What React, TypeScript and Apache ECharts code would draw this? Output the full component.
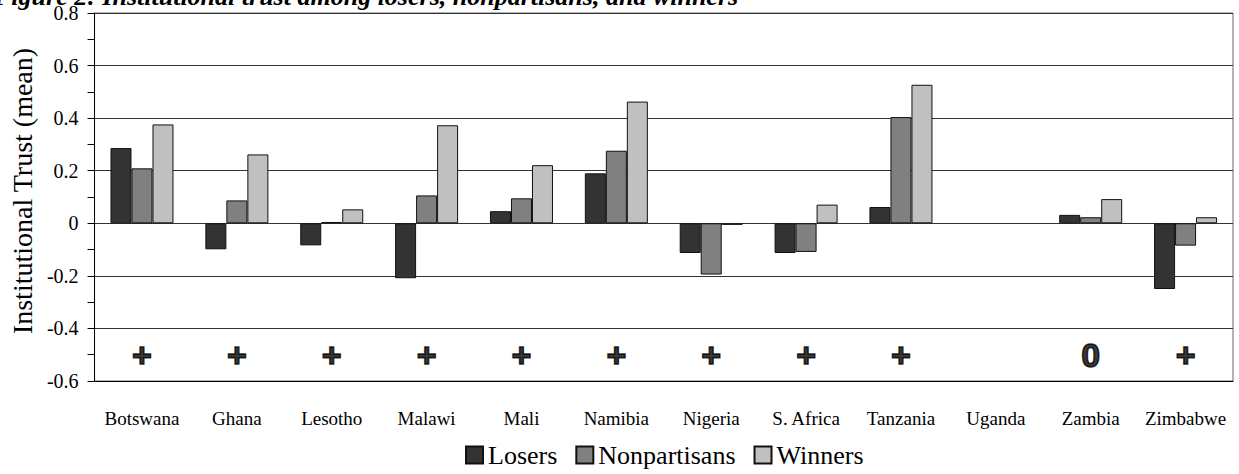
import React, { useEffect, useRef } from "react";
import * as echarts from "echarts";

const titleText = "Figure 2: Institutional trust among losers, nonpartisans, and winners";
const yAxisName = "Institutional Trust (mean)";
const categories = ["Botswana", "Ghana", "Lesotho", "Malawi", "Mali", "Namibia", "Nigeria", "S. Africa", "Tanzania", "Uganda", "Zambia", "Zimbabwe"];
const seriesNames = ["Losers", "Nonpartisans", "Winners"];
const losers = [0.286, -0.099, -0.084, -0.209, 0.046, 0.19, -0.113, -0.113, 0.062, null, 0.032, -0.25];
const nonpartisans = [0.209, 0.087, 0.005, 0.106, 0.095, 0.276, -0.195, -0.109, 0.404, null, 0.023, -0.085];
const winners = [0.376, 0.262, 0.053, 0.373, 0.221, 0.463, -0.006, 0.071, 0.527, null, 0.092, 0.023];
const signs = ["+", "+", "+", "+", "+", "+", "+", "+", "+", "", "0", "+"];
const signLevel = -0.5;
const yMin = -0.6;
const yMax = 0.8;
const yInterval = 0.2;

const colors = ["#333333", "#808080", "#c0c0c0"];
const serif = "Liberation Serif";

export default function App() {
  const ref = useRef<HTMLDivElement>(null);
  useEffect(() => {
    if (!ref.current) return;
    const chart = echarts.init(ref.current, null, { renderer: "svg" });
    const values = [losers, nonpartisans, winners];
    const barSeries = seriesNames.map((name, i) => ({
      name,
      type: "bar",
      data: values[i],
      barWidth: 21,
      barGap: "0%",
      itemStyle: { color: colors[i], borderColor: "#111", borderWidth: 1 },
      z: 3,
    }));
    chart.setOption({
      animation: false,
      textStyle: { fontFamily: serif },
      graphic: [
        {
          type: "text",
          x: -6,
          y: -4,
          style: {
            text: titleText,
            font: "italic bold 26px 'Liberation Serif'",
            fill: "#000",
            verticalAlign: "middle",
          },
        },
      ],
      grid: { left: 87, right: 6, top: 13, bottom: 93, show: true, borderColor: "#666", borderWidth: 1, backgroundColor: "transparent" },
      legend: {
        data: seriesNames,
        left: 460,
        top: 442,
        itemWidth: 17,
        itemHeight: 17,
        itemGap: 18,
        icon: "rect",
        padding: [0, 5, 0, 5],
        textStyle: { fontFamily: serif, fontSize: 26, color: "#000" },
      },
      xAxis: {
        type: "category",
        data: categories,
        axisLine: { onZero: false, lineStyle: { color: "#000", width: 1 } },
        axisTick: { show: false },
        axisLabel: { fontFamily: serif, fontSize: 19, color: "#000", margin: 28, interval: 0 },
        splitLine: { show: false },
      },
      yAxis: {
        type: "value",
        min: yMin,
        max: yMax,
        interval: yInterval,
        name: yAxisName,
        nameLocation: "middle",
        nameGap: 50,
        nameTextStyle: { fontFamily: serif, fontSize: 28, color: "#000", padding: [0, 0, 0, 12] },
        axisLine: { show: true, lineStyle: { color: "#000", width: 1 } },
        axisTick: { show: true, inside: false, length: 7, lineStyle: { color: "#000" } },
        minorTick: { show: true, splitNumber: 2, length: 7, lineStyle: { color: "#000" } },
        axisLabel: {
          fontFamily: serif,
          fontSize: 20,
          color: "#000",
          margin: 16,
          formatter: (v: number) => {
            const r = Math.round(v * 10) / 10;
            return r === 0 ? "0" : r.toFixed(1);
          },
        },
        splitLine: { show: true, lineStyle: { color: "#333", width: 1 } },
      },
      series: [
        ...barSeries,
        {
          name: "signs",
          type: "scatter",
          symbolSize: 0,
          data: categories.map((c) => [c, signLevel]),
          label: {
            show: true,
            position: "inside",
            formatter: (p: any) => signs[p.dataIndex],
            fontFamily: "Liberation Sans",
            fontWeight: "bold",
            fontSize: 34,
            color: "#000",
            textBorderColor: "#000",
            textBorderWidth: 1.5,
          },
          silent: true,
          z: 4,
        },
      ],
    });
    return () => chart.dispose();
  }, []);
  return <div ref={ref} style={{ position: "absolute", left: 0, top: 0, width: 1239, height: 474, background: "#fff" }} />;
}
